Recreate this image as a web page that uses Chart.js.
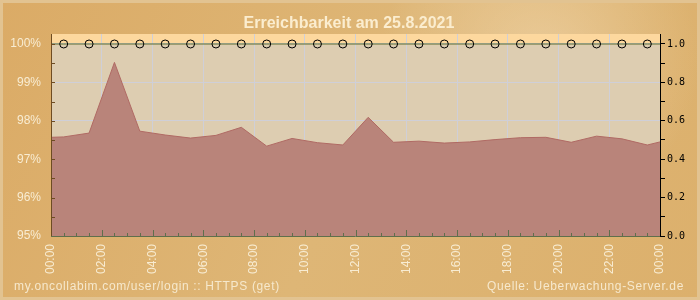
<!DOCTYPE html>
<html>
<head>
<meta charset="utf-8">
<script src="https://cdn.jsdelivr.net/npm/chart.js@4/dist/chart.umd.min.js"></script>
<style>
  html, body { margin: 0; padding: 0; background: #dcb06e; }
  #wrap { width: 700px; height: 300px; }
</style>
</head>
<body>
<div id="wrap"><canvas id="erreichbarkeit" width="700" height="300"></canvas></div>
<script>
// Stunden (0 = 00:00, 24 = 00:00 naechster Tag)
const stunden = [0, 0.5, 1.5, 2.5, 3.5, 4.5, 5.5, 6.5, 7.5, 8.5, 9.5, 10.5, 11.5,
    12.5, 13.5, 14.5, 15.5, 16.5, 17.5, 18.5, 19.5, 20.5, 21.5, 22.5, 23.5, 24];

// Erreichbarkeit in %
const erreichbarkeit = [97.57, 97.58, 97.68, 99.52, 97.73, 97.63, 97.55, 97.62, 97.83,
    97.34, 97.54, 97.43, 97.37, 98.09, 97.44, 97.47, 97.42, 97.45, 97.51,
    97.56, 97.57, 97.44, 97.60, 97.53, 97.37, 97.45];

// Status (rechte Achse)
const status = [1, 1, 1, 1, 1, 1, 1, 1, 1, 1, 1, 1, 1,
    1, 1, 1, 1, 1, 1, 1, 1, 1, 1, 1, 1, 1];

const xTicks = [0, 2, 4, 6, 8, 10, 12, 14, 16, 18, 20, 22, 24];
const yTicks = [95, 96, 97, 98, 99, 100];
const y1Ticks = [0, 0.1, 0.2, 0.3, 0.4, 0.5, 0.6, 0.7, 0.8, 0.9, 1.0];

const titel = "Erreichbarkeit am 25.8.2021";
const fussLinks = "my.oncollabim.com/user/login :: HTTPS (get)";
const fussRechts = "Quelle: Ueberwachung-Server.de";

const yMin = 95, yMax = 100.26;

// Hintergrund, Achsen und Texte
const hintergrund = {
    id: "hintergrund",
    beforeDraw(chart) {
        const c = chart.ctx;
        const a = chart.chartArea;
        const w = chart.width, h = chart.height;
        c.save();
        c.fillStyle = "#e2c391";
        c.fillRect(0, 0, w, h);
        const g = c.createLinearGradient(0, 0, w, h);
        g.addColorStop(0, "#dbab66");
        g.addColorStop(0.5, "#deb676");
        g.addColorStop(1, "#dcb06c");
        c.fillStyle = g;
        c.fillRect(3, 3, w - 6, h - 6);
        // heller Schleier rechts oben
        const r = c.createRadialGradient(540, 60, 10, 540, 60, 160);
        r.addColorStop(0, "rgba(255,240,215,0.35)");
        r.addColorStop(1, "rgba(255,240,215,0)");
        c.fillStyle = r;
        c.fillRect(3, 3, w - 6, h - 6);
        // Plotflaeche
        const y100 = chart.scales.y.getPixelForValue(100);
        c.fillStyle = "#fdd89e";
        c.fillRect(a.left, a.top, a.right - a.left, y100 - a.top);
        c.fillStyle = "#ddcdb1";
        c.fillRect(a.left, y100, a.right - a.left, a.bottom - y100);
        c.restore();
    },
    afterDatasetsDraw(chart) {
        const c = chart.ctx;
        const a = chart.chartArea;
        const x = chart.scales.x, y = chart.scales.y;
        c.save();
        c.lineWidth = 1;
        // linke Achse
        c.strokeStyle = "#6e4c22";
        c.beginPath();
        c.moveTo(a.left + 0.5, a.top);
        c.lineTo(a.left + 0.5, a.bottom);
        for (let v = 95.5; v <= 100; v += 0.5) {
            const py = Math.round(y.getPixelForValue(v)) + 0.5;
            c.moveTo(a.left, py);
            c.lineTo(a.left + 4, py);
        }
        c.stroke();
        // untere Achse
        c.strokeStyle = "#5f6f4c";
        c.beginPath();
        c.moveTo(a.left, a.bottom + 0.5);
        c.lineTo(a.right, a.bottom + 0.5);
        for (let v = 0.5; v < 24; v += 0.5) {
            const px = Math.round(x.getPixelForValue(v)) + 0.5;
            c.moveTo(px, a.bottom);
            c.lineTo(px, a.bottom - (v % 2 === 0 ? 6 : 3));
        }
        c.stroke();
        // rechte Achse
        c.strokeStyle = "#000";
        c.beginPath();
        c.moveTo(a.right + 0.5, a.top);
        c.lineTo(a.right + 0.5, a.bottom + 1);
        c.stroke();
        c.restore();
    },
    afterDraw(chart) {
        const c = chart.ctx;
        c.save();
        c.fillStyle = "#fbedcf";
        c.font = "bold 16px 'Liberation Sans', Arial, sans-serif";
        c.textAlign = "center";
        c.textBaseline = "alphabetic";
        c.fillText(titel, 349, 28);
        c.font = "12px 'Liberation Sans', Arial, sans-serif";
        c.letterSpacing = "0.65px";
        c.fillStyle = "#f6e8cc";
        c.textAlign = "left";
        c.fillText(fussLinks, 14, 290);
        c.textAlign = "right";
        c.fillText(fussRechts, 684, 290);
        c.restore();
    },
};

document.addEventListener("DOMContentLoaded", () => {
    const ctx = document.getElementById("erreichbarkeit").getContext("2d");

    const myChart = new Chart(ctx, {
        type: "line",
        data: {
            datasets: [
                {
                    label: "Status",
                    data: stunden.map((s, i) => ({ x: s, y: status[i] })),
                    yAxisID: "y1",
                    borderColor: "#5b6b2c",
                    borderWidth: 1,
                    pointRadius: stunden.map((s) => (s === 0 || s === 24 ? 0 : 4)),
                    pointBorderColor: "#000",
                    pointBorderWidth: 1,
                    pointBackgroundColor: "rgba(0,0,0,0)",
                    fill: false,
                    tension: 0,
                    clip: false,
                },
                {
                    label: "Erreichbarkeit",
                    data: stunden.map((s, i) => ({ x: s, y: erreichbarkeit[i] })),
                    yAxisID: "y",
                    borderColor: "#b06a64",
                    borderWidth: 1,
                    backgroundColor: "#b9847a",
                    pointRadius: 0,
                    fill: "start",
                    tension: 0,
                },
            ],
        },
        options: {
            responsive: false,
            animation: false,
            devicePixelRatio: 1,
            layout: { padding: { top: 34, left: 0, right: 0, bottom: 0 } },
            plugins: {
                legend: { display: false },
                tooltip: { enabled: false },
            },
            scales: {
                x: {
                    type: "linear",
                    min: 0,
                    max: 24,
                    afterBuildTicks: (s) => { s.ticks = xTicks.map((v) => ({ value: v })); },
                    afterFit: (s) => { s.height = 64; },
                    grid: { color: "#cfcfd8", drawTicks: false },
                    border: { display: false },
                    ticks: {
                        minRotation: 90,
                        maxRotation: 90,
                        padding: 8,
                        color: "#f8ecd2",
                        font: { family: "'Liberation Sans', Arial, sans-serif", size: 12 },
                        callback: (v) => String(v % 24).padStart(2, "0") + ":00",
                    },
                },
                y: {
                    position: "left",
                    min: yMin,
                    max: yMax,
                    afterBuildTicks: (s) => { s.ticks = yTicks.map((v) => ({ value: v })); },
                    afterFit: (s) => { s.width = 51; },
                    grid: { color: "#cfcfd8", drawTicks: false },
                    border: { display: false },
                    ticks: {
                        padding: 10,
                        color: "#f8ecd2",
                        font: { family: "'Liberation Sans', Arial, sans-serif", size: 12 },
                        callback: (v) => v + "%",
                    },
                },
                y1: {
                    position: "right",
                    min: 0,
                    max: (yMax - yMin) / 5,
                    afterBuildTicks: (s) => { s.ticks = y1Ticks.map((v) => ({ value: v })); },
                    afterFit: (s) => { s.width = 40; },
                    grid: { drawOnChartArea: false, color: "#000", tickLength: 5 },
                    border: { display: false },
                    ticks: {
                        padding: 2,
                        color: "#000",
                        font: { family: "'DejaVu Sans Mono', monospace", size: 10 },
                        callback: (v) => (Math.round(v * 10) % 2 === 0 ? v.toFixed(1) : ""),
                    },
                },
            },
        },
        plugins: [hintergrund],
    });
});
</script>
</body>
</html>
